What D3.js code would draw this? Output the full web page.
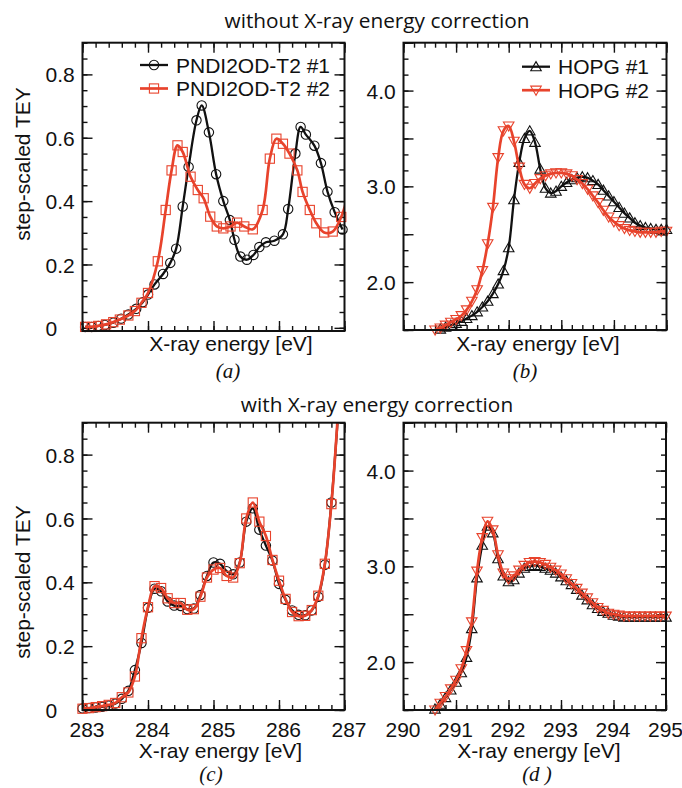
<!DOCTYPE html>
<html>
<head>
<meta charset="utf-8">
<script src="https://cdn.jsdelivr.net/npm/d3@7"></script>
<style>
  html, body { margin: 0; padding: 0; background: #fff; }
  svg { display: block; }
  .tick text { font-family: "Liberation Sans", Arial, sans-serif; font-size: 21px; fill: #111; }
  .lbl { font-family: "Liberation Sans", Arial, sans-serif; font-size: 21px; fill: #111; }
  .title { font-family: "Open Sans", "Noto Sans", sans-serif; font-size: 20.8px; fill: #111; }
  .plab { font-family: "Liberation Serif", serif; font-style: italic; font-size: 21px; fill: #111; }
</style>
</head>
<body>
<svg id="chart" width="682" height="788"></svg>
<script>
// ---------------- data ----------------
// PNDI2OD-T2, C K-edge, without energy correction
const pndi1RawEnergy = [283.04, 283.14, 283.24, 283.34, 283.47, 283.59, 283.70, 283.82, 283.92, 284.00,
  284.10, 284.23, 284.34, 284.43, 284.53, 284.62, 284.74, 284.82, 284.93, 285.04,
  285.15, 285.25, 285.32, 285.41, 285.51, 285.61, 285.70, 285.80, 285.93, 286.06,
  286.14, 286.25, 286.33, 286.41, 286.54, 286.64, 286.74, 286.85, 286.97];
const pndi1RawTey = [0.003, 0.003, 0.006, 0.009, 0.016, 0.029, 0.042, 0.060, 0.081, 0.105,
  0.137, 0.170, 0.205, 0.250, 0.383, 0.508, 0.655, 0.702, 0.617, 0.485,
  0.400, 0.340, 0.278, 0.225, 0.215, 0.230, 0.255, 0.270, 0.275, 0.295,
  0.375, 0.550, 0.634, 0.610, 0.575, 0.520, 0.430, 0.365, 0.310];

const pndi2RawEnergy = [283.04, 283.14, 283.24, 283.36, 283.47, 283.57, 283.70, 283.80, 283.90, 284.00,
  284.15, 284.27, 284.36, 284.45, 284.53, 284.65, 284.76, 284.85, 284.95, 285.05,
  285.15, 285.26, 285.36, 285.47, 285.60, 285.75, 285.86, 285.96, 286.06, 286.16,
  286.28, 286.36, 286.47, 286.57, 286.69, 286.82, 286.95, 287.04];
const pndi2RawTey = [0.003, 0.003, 0.006, 0.011, 0.018, 0.026, 0.039, 0.053, 0.079, 0.110,
  0.210, 0.372, 0.497, 0.576, 0.555, 0.477, 0.435, 0.409, 0.351, 0.320,
  0.314, 0.320, 0.332, 0.320, 0.311, 0.372, 0.534, 0.597, 0.581, 0.550,
  0.497, 0.429, 0.372, 0.330, 0.301, 0.304, 0.350, 0.410];

// PNDI2OD-T2, with energy correction
const pndiCorrEnergy = [283.0, 283.1, 283.2, 283.3, 283.4, 283.5, 283.6, 283.7, 283.8, 283.9,
  284.0, 284.1, 284.2, 284.3, 284.4, 284.5, 284.6, 284.7, 284.8, 284.9,
  285.0, 285.1, 285.2, 285.3, 285.4, 285.5, 285.6, 285.7, 285.8, 285.9,
  286.0, 286.1, 286.2, 286.3, 286.4, 286.5, 286.6, 286.7, 286.8, 286.9];
const pndi1CorrTey = [0.005, 0.006, 0.008, 0.010, 0.014, 0.020, 0.035, 0.060, 0.125, 0.210,
  0.320, 0.380, 0.372, 0.340, 0.327, 0.326, 0.316, 0.318, 0.360, 0.420,
  0.462, 0.458, 0.435, 0.425, 0.462, 0.590, 0.632, 0.565, 0.515, 0.468,
  0.395, 0.345, 0.312, 0.298, 0.297, 0.312, 0.355, 0.455, 0.650, 0.920];
const pndi2CorrTey = [0.004, 0.006, 0.009, 0.012, 0.016, 0.022, 0.040, 0.055, 0.105, 0.225,
  0.322, 0.388, 0.382, 0.350, 0.335, 0.335, 0.314, 0.316, 0.355, 0.415,
  0.440, 0.445, 0.420, 0.415, 0.460, 0.600, 0.650, 0.590, 0.545, 0.470,
  0.405, 0.348, 0.307, 0.294, 0.295, 0.313, 0.358, 0.458, 0.645, 0.930];

// HOPG reference, shared energy grid
const hopgEnergy = [290.6, 290.7, 290.8, 290.9, 291.0, 291.1, 291.2, 291.3, 291.4, 291.5,
  291.6, 291.7, 291.8, 291.9, 292.0, 292.1, 292.2, 292.3, 292.4, 292.5,
  292.6, 292.7, 292.8, 292.9, 293.0, 293.1, 293.2, 293.3, 293.4, 293.5,
  293.6, 293.7, 293.8, 293.9, 294.0, 294.1, 294.2, 294.3, 294.4, 294.5,
  294.6, 294.7, 294.8, 294.9, 295.0];
const hopg1RawTey = [1.49, 1.51, 1.53, 1.55, 1.57, 1.59, 1.62, 1.65, 1.69, 1.74,
  1.80, 1.88, 1.98, 2.12, 2.36, 2.86, 3.25, 3.50, 3.58, 3.46,
  3.18, 2.98, 2.93, 2.95, 3.00, 3.04, 3.07, 3.09, 3.10, 3.09,
  3.06, 3.02, 2.96, 2.90, 2.84, 2.78, 2.72, 2.67, 2.62, 2.59,
  2.57, 2.56, 2.55, 2.55, 2.55];
const hopg2RawTey = [1.50, 1.52, 1.55, 1.58, 1.61, 1.65, 1.71, 1.80, 1.92, 2.12,
  2.40, 2.78, 3.30, 3.58, 3.63, 3.47, 3.20, 3.02, 2.98, 3.03,
  3.08, 3.11, 3.13, 3.14, 3.14, 3.13, 3.11, 3.07, 3.03, 2.97,
  2.90, 2.83, 2.75, 2.68, 2.63, 2.59, 2.56, 2.54, 2.53, 2.52,
  2.52, 2.52, 2.52, 2.53, 2.53];
const hopg1CorrTey = [1.51, 1.56, 1.63, 1.71, 1.79, 1.89, 2.05, 2.35, 2.88, 3.22,
  3.42, 3.35, 3.08, 2.90, 2.84, 2.86, 2.93, 2.98, 3.00, 3.01,
  3.00, 2.98, 2.96, 2.93, 2.89, 2.85, 2.81, 2.76, 2.70, 2.65,
  2.60, 2.56, 2.53, 2.51, 2.49, 2.48, 2.47, 2.47, 2.47, 2.47,
  2.47, 2.47, 2.47, 2.47, 2.47];
const hopg2CorrTey = [1.50, 1.57, 1.64, 1.72, 1.81, 1.93, 2.12, 2.42, 2.95, 3.30,
  3.47, 3.38, 3.12, 2.93, 2.87, 2.90, 2.96, 3.01, 3.04, 3.05,
  3.04, 3.02, 2.99, 2.96, 2.92, 2.87, 2.82, 2.77, 2.72, 2.67,
  2.62, 2.57, 2.54, 2.51, 2.50, 2.49, 2.48, 2.48, 2.48, 2.48,
  2.48, 2.48, 2.48, 2.48, 2.48];

// tick labels
const carbonTickLabels = [283, 284, 285, 286, 287];
const hopgTickLabels = [290, 291, 292, 293, 294, 295];
const teyTickLabels = [0, 0.2, 0.4, 0.6, 0.8];
const hopgTeyTickLabels = [2.0, 3.0, 4.0];

const legendPndi = ["PNDI2OD-T2 #1", "PNDI2OD-T2 #2"];
const legendHopg = ["HOPG #1", "HOPG #2"];

// ---------------- drawing ----------------
const RED = "#e8432c";
const INK = "#111";
const svg = d3.select("#chart");

const zip = (xs, ys) => xs.map((x, i) => ({ x, y: ys[i] }));

const panels = [
  { id: "a", left: 82.5, right: 344.5, top: 42.7, bottom: 331, xDom: [283, 287], yDom: [-0.01, 0.9],
    kind: "pndi", showX: false, tag: "(a)", tagX: 228, tagY: 378, xlabX: 231, xlabY: 351,
    ylab: true, ylabY: 164,
    series: [zip(pndi1RawEnergy, pndi1RawTey), zip(pndi2RawEnergy, pndi2RawTey)],
    legend: legendPndi, legX: 140, legY: 65 },
  { id: "b", left: 403.5, right: 666.5, top: 42.7, bottom: 330, xDom: [290, 295], yDom: [1.5, 4.5],
    kind: "hopg", showX: false, tag: "(b)", tagX: 525, tagY: 378, xlabX: 538, xlabY: 351,
    series: [zip(hopgEnergy, hopg1RawTey), zip(hopgEnergy, hopg2RawTey)],
    legend: legendHopg, legX: 522, legY: 66.7 },
  { id: "c", left: 82.5, right: 344.5, top: 422.7, bottom: 710, xDom: [283, 287], yDom: [0, 0.9],
    kind: "pndi", showX: true, labelDx: 4, tag: "(c)", tagX: 211, tagY: 781, xlabX: 220.5, xlabY: 758,
    ylab: true, ylabY: 582,
    series: [zip(pndiCorrEnergy, pndi1CorrTey), zip(pndiCorrEnergy, pndi2CorrTey)] },
  { id: "d", left: 403.5, right: 666, top: 422.7, bottom: 710, xDom: [290, 295], yDom: [1.5, 4.5],
    kind: "hopg", showX: true, labelDx: -1, tag: "(d )", tagX: 537, tagY: 781, xlabX: 539, xlabY: 758,
    series: [zip(hopgEnergy, hopg1CorrTey), zip(hopgEnergy, hopg2CorrTey)] }
];

// titles
svg.append("text").attr("class", "title").attr("x", 377).attr("y", 28)
  .attr("text-anchor", "middle").text("without X-ray energy correction");
svg.append("text").attr("class", "title").attr("x", 377).attr("y", 411.5)
  .attr("text-anchor", "middle").text("with X-ray energy correction");

function drawMarkers(g, pts, kind, idx, color) {
  if (kind === "pndi" && idx === 0) {
    g.selectAll(null).data(pts).join("circle")
      .attr("cx", d => d.px).attr("cy", d => d.py).attr("r", 4.7)
      .attr("fill", "none").attr("stroke", color).attr("stroke-width", 1.1);
  } else if (kind === "pndi") {
    g.selectAll(null).data(pts).join("rect")
      .attr("x", d => d.px - 4.6).attr("y", d => d.py - 4.6)
      .attr("width", 9.2).attr("height", 9.2)
      .attr("fill", "none").attr("stroke", color).attr("stroke-width", 1.1);
  } else {
    const tri = d3.symbol().type(d3.symbolTriangle).size(48)();
    g.selectAll(null).data(pts).join("path")
      .attr("d", tri)
      .attr("transform", d => `translate(${d.px},${d.py + (idx === 0 ? 1 : -1)})` + (idx === 1 ? " rotate(180)" : ""))
      .attr("fill", "none").attr("stroke", color).attr("stroke-width", 1.1);
  }
}

panels.forEach(p => {
  const x = d3.scaleLinear().domain(p.xDom).range([p.left, p.right]);
  const y = d3.scaleLinear().domain(p.yDom).range([p.bottom, p.top]);
  const g = svg.append("g");

  // tick sets
  const xMajor = p.kind === "pndi" ? carbonTickLabels : hopgTickLabels;
  const xMinor = d3.range(Math.round((p.xDom[1] - p.xDom[0]) / 0.2) + 1).map(k => +(p.xDom[0] + k * 0.2).toFixed(2));
  let yMajor, yMinor, yLabels;
  if (p.kind === "pndi") {
    yLabels = teyTickLabels;
    yMajor = teyTickLabels;
    yMinor = d3.range(0, 19).map(k => +(k * 0.05).toFixed(2)).filter(v => v <= p.yDom[1]);
  } else {
    yLabels = hopgTeyTickLabels;
    yMajor = [1.5, 2.0, 2.5, 3.0, 3.5, 4.0, 4.5];
    yMinor = d3.range(0, 19).map(k => 1.5 + k / 6);
  }

  const clean = sel => { sel.select(".domain").remove(); sel.selectAll("line").attr("stroke", INK).attr("stroke-width", 1.4); };

  // bottom / top
  [[d3.axisBottom, p.bottom], [d3.axisTop, p.top]].forEach(([ax, pos]) => {
    g.append("g").attr("transform", `translate(0,${pos})`)
      .call(ax(x).tickValues(xMinor).tickSize(-5).tickFormat("")).call(clean);
    g.append("g").attr("transform", `translate(0,${pos})`)
      .call(ax(x).tickValues(xMajor).tickSize(-10).tickFormat("")).call(clean);
  });
  // left / right
  [[d3.axisLeft, p.left], [d3.axisRight, p.right]].forEach(([ax, pos]) => {
    g.append("g").attr("transform", `translate(${pos},0)`)
      .call(ax(y).tickValues(yMinor).tickSize(-5).tickFormat("")).call(clean);
    g.append("g").attr("transform", `translate(${pos},0)`)
      .call(ax(y).tickValues(yMajor).tickSize(-10).tickFormat("")).call(clean);
  });

  // y tick labels (left-aligned column)
  const yl = g.append("g").attr("transform", `translate(${p.left},0)`)
    .call(d3.axisLeft(y).tickValues(yLabels).tickSize(0)
      .tickFormat(p.kind === "pndi" ? (v => v === 0 ? "0" : d3.format(".1f")(v)) : d3.format(".1f")));
  yl.select(".domain").remove();
  yl.selectAll("text").attr("x", -37).attr("text-anchor", "start").attr("dy", "0.36em");

  // x tick labels
  if (p.showX) {
    const xl = g.append("g").attr("transform", `translate(0,${p.bottom})`)
      .call(d3.axisBottom(x).tickValues(xMajor).tickSize(0).tickPadding(12).tickFormat(d3.format("d")));
    xl.select(".domain").remove();
    xl.selectAll("text").attr("dx", p.labelDx);
  }

  // clip for curves
  const clipId = "clip-" + p.id;
  svg.append("clipPath").attr("id", clipId).append("rect")
    .attr("x", p.left).attr("y", p.top).attr("width", p.right - p.left).attr("height", p.bottom - p.top);

  const line = d3.line().x(d => x(d.x)).y(d => y(d.y)).curve(d3.curveCatmullRom.alpha(0.5));
  const colors = [INK, RED];
  const widths = [2.3, 2.7];

  p.series.forEach((s, i) => {
    const sg = g.append("g");
    sg.append("path").datum(s).attr("d", line).attr("fill", "none")
      .attr("stroke", colors[i]).attr("stroke-width", widths[i]).attr("stroke-linejoin", "round")
      .attr("clip-path", `url(#${clipId})`);
    const pts = s.filter(d => d.x >= p.xDom[0] && d.x <= p.xDom[1] && d.y >= p.yDom[0] && d.y <= p.yDom[1])
      .map(d => ({ px: x(d.x), py: y(d.y) }));
    drawMarkers(sg, pts, p.kind, i, colors[i]);
  });

  // frame
  g.append("rect").attr("x", p.left).attr("y", p.top)
    .attr("width", p.right - p.left).attr("height", p.bottom - p.top)
    .attr("fill", "none").attr("stroke", INK).attr("stroke-width", 2);

  // legend
  if (p.legend) {
    p.legend.forEach((name, i) => {
      const ly = p.legY + i * 23.5;
      const lx0 = p.legX, lx1 = p.legX + 28;
      g.append("line").attr("x1", lx0).attr("x2", lx1).attr("y1", ly).attr("y2", ly)
        .attr("stroke", colors[i]).attr("stroke-width", widths[i]);
      drawMarkers(g, [{ px: (lx0 + lx1) / 2, py: ly }], p.kind, i, colors[i]);
      g.append("text").attr("class", "lbl").attr("x", lx1 + 8).attr("y", ly + 7.5).text(name);
    });
  }

  // axis titles and panel tag
  g.append("text").attr("class", "lbl").attr("x", p.xlabX).attr("y", p.xlabY)
    .attr("text-anchor", "middle").text("X-ray energy [eV]");
  if (p.ylab) {
    g.append("text").attr("class", "lbl")
      .attr("transform", `translate(30,${p.ylabY}) rotate(-90)`)
      .attr("text-anchor", "middle").text("step-scaled TEY");
  }
  g.append("text").attr("class", "plab").attr("x", p.tagX).attr("y", p.tagY)
    .attr("text-anchor", "middle").text(p.tag);
});
</script>
</body>
</html>
